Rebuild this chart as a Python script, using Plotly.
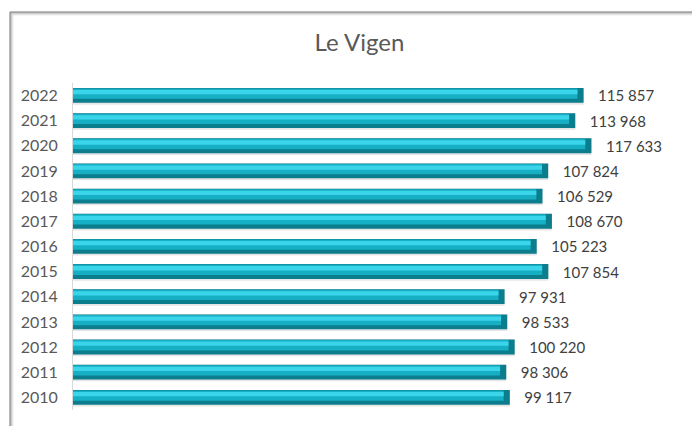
import plotly.graph_objects as go

years = ["2010", "2011", "2012", "2013", "2014", "2015", "2016",
         "2017", "2018", "2019", "2020", "2021", "2022"]
values = [99117, 98306, 100220, 98533, 97931, 107854, 105223,
          108670, 106529, 107824, 117633, 113968, 115857]
title_text = "Le Vigen"

labels = ["   " + f"{v:,}".replace(",", " ") for v in values]
cap = 1400
inner = [v - cap for v in values]

FONT = "Lato, 'Liberation Sans', sans-serif"

# page has an 8px body margin: figure is laid out in its own coordinates
W, H = 692, 418
L, R, T, B = 65, 10, 75, 16
PW, PH = W - L - R, H - T - B

fig = go.Figure()
# shadow below bar
fig.add_trace(go.Bar(y=years, x=values, orientation="h", offset=-0.36, width=0.66,
                     marker=dict(color="rgba(0,0,0,0.10)", line=dict(width=0)),
                     hoverinfo="skip", showlegend=False))
# base (dark) bar with label
fig.add_trace(go.Bar(y=years, x=values, orientation="h", offset=-0.29, width=0.59,
                     marker=dict(color="#0c7d8d", line=dict(width=0)),
                     text=labels, textposition="outside", cliponaxis=False,
                     constraintext="none",
                     textfont=dict(family=FONT, size=15, color="#404040"),
                     showlegend=False))
# mid tone
fig.add_trace(go.Bar(y=years, x=inner, orientation="h", offset=-0.13, width=0.41,
                     marker=dict(color="#17afc4", line=dict(width=0)),
                     hoverinfo="skip", showlegend=False))
# bright band
fig.add_trace(go.Bar(y=years, x=inner, orientation="h", offset=0.05, width=0.17,
                     marker=dict(color="#3ad5eb", line=dict(width=0)),
                     hoverinfo="skip", showlegend=False))

shapes = []
# chart border with soft shadow
for i, op in enumerate([0.55, 0.30, 0.15, 0.07]):
    xs = (2 + i - L) / PW
    ys = 1 + (T - 4 - i) / PH
    shapes.append(dict(type="line", xref="paper", yref="paper",
                       x0=xs, x1=1.2, y0=ys, y1=ys,
                       line=dict(color=f"rgba(90,90,90,{op})", width=1.5)))
    shapes.append(dict(type="line", xref="paper", yref="paper",
                       x0=xs, x1=xs, y0=ys, y1=-0.2,
                       line=dict(color=f"rgba(90,90,90,{op})", width=1.5)))

fig.update_layout(
    width=W, height=H,
    margin=dict(l=L, r=R, t=T, b=B),
    paper_bgcolor="white", plot_bgcolor="white",
    barmode="overlay",
    title=dict(text=title_text, x=351.5 / W, xanchor="center", y=1 - 35 / H, yanchor="middle",
               font=dict(family=FONT, size=24, color="#595959")),
    xaxis=dict(range=[0, 140000], visible=False, showgrid=False, zeroline=False),
    yaxis=dict(type="category", categoryorder="array", categoryarray=years,
               showline=True, linecolor="#d9d9d9", linewidth=1, automargin=False,
               ticks="", ticklabelstandoff=11, showgrid=False,
               tickfont=dict(family=FONT, size=16, color="#595959")),
    shapes=shapes,
    font=dict(family=FONT),
)

fig.write_html("out.html")
